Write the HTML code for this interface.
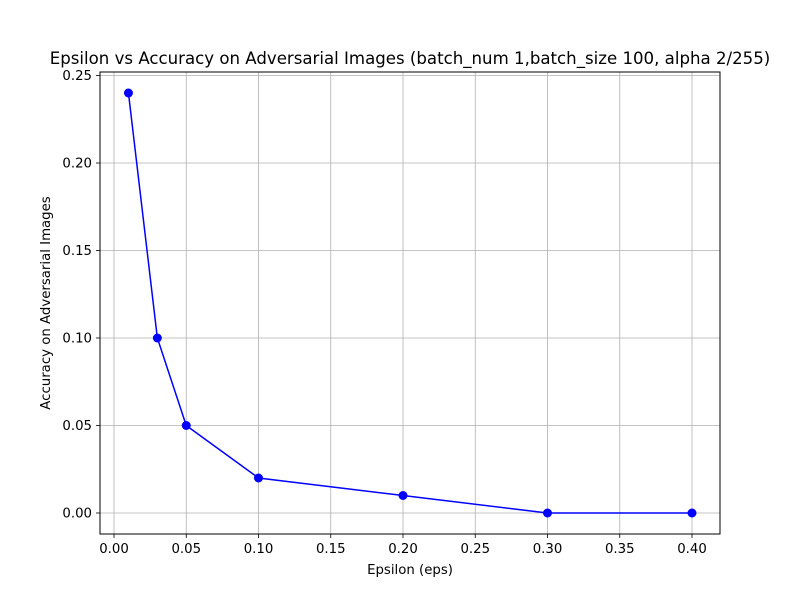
<!DOCTYPE html>
<html><head><meta charset="utf-8"><style>
body{margin:0;background:#fff;}
svg text{font-family:"DejaVu Sans","Liberation Sans",sans-serif;}
</style></head><body>
<svg id="chart" width="800" height="600" xmlns="http://www.w3.org/2000/svg">
<rect x="0" y="0" width="800" height="600" fill="#fff"/>
<text x="410" y="64" text-anchor="middle" font-size="16.6" fill="#000">Epsilon vs Accuracy on Adversarial Images (batch_num 1,batch_size 100, alpha 2/255)</text>
<g id="grid"></g>
<g id="ticks"></g>
<rect x="100" y="72" width="620" height="462" fill="none" stroke="#000" stroke-width="1"/>
<g id="series"></g>
<text x="410" y="574" text-anchor="middle" font-size="13.3">Epsilon (eps)</text>
<text transform="translate(50,303) rotate(-90)" text-anchor="middle" font-size="13.3">Accuracy on Adversarial Images</text>
</svg>
<script>
const epsValues = [0.01, 0.03, 0.05, 0.1, 0.2, 0.3, 0.4];
const accValues = [0.24, 0.10, 0.05, 0.02, 0.01, 0.0, 0.0];
const xTicks = [0, 0.05, 0.1, 0.15, 0.2, 0.25, 0.3, 0.35, 0.4];
const yTicks = [0, 0.05, 0.1, 0.15, 0.2, 0.25];
const NS = "http://www.w3.org/2000/svg";
function xs(v){return 114 + v*(578/0.4);}
function ys(v){return 513 - v*1750;}
function mk(tag, attrs, parent){const e=document.createElementNS(NS,tag);for(const k in attrs)e.setAttribute(k,attrs[k]);parent.appendChild(e);return e;}
const grid=document.getElementById('grid'), ticks=document.getElementById('ticks'), series=document.getElementById('series');
xTicks.forEach(t=>{
  const x=xs(t);
  const g=mk('line',{x1:x,x2:x,y1:72,y2:534,stroke:'#b0b0b0','stroke-width':0.8},grid);
  
  
  const tk=mk('line',{x1:x,x2:x,y1:534,y2:538,stroke:'#000','stroke-width':0.8},ticks);
  
  
  const lb=mk('text',{x:x,y:553,'text-anchor':'middle','font-size':13.3},ticks);
  lb.textContent=t.toFixed(2);
  
  
});
yTicks.forEach(t=>{
  const y=ys(t);
  const g=mk('line',{x1:100,x2:720,y1:y,y2:y,stroke:'#b0b0b0','stroke-width':0.8},grid);
  
  
  const tk=mk('line',{x1:96,x2:100,y1:y,y2:y,stroke:'#000','stroke-width':0.8},ticks);
  
  
  const lb=mk('text',{x:92,y:y+4.5,'text-anchor':'end','font-size':13.3},ticks);
  lb.textContent=t.toFixed(2);
  
  
});
const pts=epsValues.map((e,i)=>xs(e)+','+ys(accValues[i])).join(' ');
const line=mk('polyline',{points:pts,fill:'none',stroke:'#0000ff','stroke-width':1.5},series);


epsValues.forEach((e,i)=>{
  const c=mk('circle',{cx:xs(e),cy:ys(accValues[i]),r:4.5,fill:'#0000ff'},series);
  
  
});
</script>
</body></html>
